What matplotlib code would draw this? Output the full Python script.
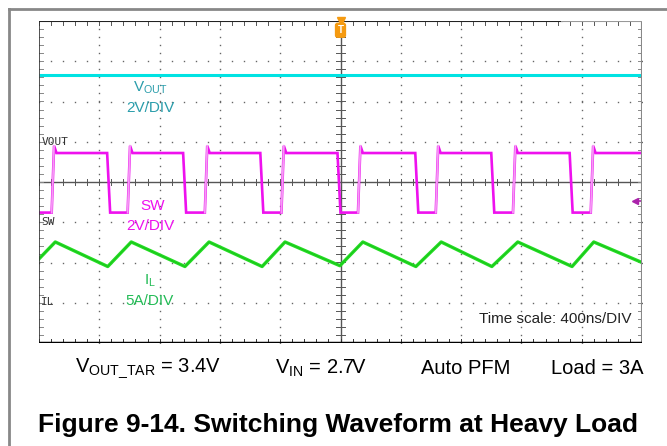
import numpy as np
import matplotlib
matplotlib.use("Agg")
import matplotlib.pyplot as plt
from matplotlib.lines import Line2D

plt.rcParams['font.family'] = ['Liberation Sans', 'DejaVu Sans']
plt.rcParams['mathtext.fontset'] = 'custom'
plt.rcParams['mathtext.rm'] = 'Liberation Sans'
plt.rcParams['mathtext.it'] = 'Liberation Sans'

# screen is 10 x 8 divisions, time in div (400 ns/div), level in div from centre
vout_level = 2.67

sw_rise = [0.23, 1.49, 2.77, 4.04, 5.31, 6.60, 7.88, 9.17]
sw_fall = [1.13, 2.39, 3.67, 4.95, 6.24, 7.50, 8.80]
sw_high = 0.72
sw_low = -0.76
sw_peak = 0.90

il_t = [0.0, 0.27, 1.14, 1.53, 2.42, 2.82, 3.70, 4.08, 4.99, 5.37, 6.25,
        6.67, 7.51, 7.94, 8.84, 9.20, 10.0]
il_v = [-1.91, -1.49, -2.10, -1.49, -2.10, -1.49, -2.10, -1.49, -2.08, -1.49,
        -2.10, -1.49, -2.10, -1.49, -2.10, -1.49, -2.00]

conditions = [r'$\mathregular{V_{OUT\_TAR}}$ = 3.4V', r'$\mathregular{V_{IN}}$ = 2.7V',
              'Auto PFM', 'Load = 3A']
cond_x = [75, 275, 421, 551]

CYAN = '#00e3e3'
TEAL = '#2a9dab'
MAG = '#ee11ee'
GREEN = '#22dd22'
DGREEN = '#22bb55'

fig = plt.figure(figsize=(6.67, 4.46), dpi=100)
ax = fig.add_axes([39/667, 1-343/446, 603/667, 322/446])
ax.set_xlim(0, 10)
ax.set_ylim(-4, 4)
ax.set_xticks([])
ax.set_yticks([])

# graticule dots
fine = np.arange(0, 10.01, 0.2)
fine_y = np.arange(-4, 4.01, 0.2)
for gx in range(1, 10):
    if gx == 5:
        continue
    ax.plot(np.full(len(fine_y), gx), fine_y, ls='none', marker='s', ms=1.0,
            color='#666666', mew=0)
for gy in range(-3, 4):
    if gy == 0:
        continue
    ax.plot(fine, np.full(len(fine), gy), ls='none', marker='s', ms=1.0,
            color='#666666', mew=0)

# centre lines with ticks
ax.axvline(5, color='#555555', lw=1.0)
ax.axhline(0, color='#555555', lw=1.0)
for t in fine:
    ax.plot([t, t], [-0.07, 0.07], color='#555555', lw=0.7)
    ax.plot([t, t], [-4, -3.9], color='#333333', lw=0.7)
    ax.plot([t, t], [4, 3.9], color='#555555', lw=0.7)
for t in fine_y:
    ax.plot([4.93, 5.07], [t, t], color='#555555', lw=0.7)
    ax.plot([0, 0.07], [t, t], color='#888888', lw=0.7)
    ax.plot([10, 9.93], [t, t], color='#888888', lw=0.7)

# VOUT trace
ax.plot([0, 10], [vout_level, vout_level], color=CYAN, lw=2.2, solid_capstyle='butt')

# SW trace built from edge times
sx = [0.0]
sy = [sw_low]
for i, r in enumerate(sw_rise):
    sx += [r - 0.02, r + 0.02, r + 0.06, r + 0.12]
    sy += [sw_low, sw_peak, sw_high, sw_high]
    if i < len(sw_fall):
        f = sw_fall[i]
        sx += [f, f + 0.05]
        sy += [sw_high, sw_low]
sx.append(10.0)
sy.append(sw_high)
ax.plot(sx, sy, color=MAG, lw=1.9, solid_joinstyle='miter')
for r in sw_rise:
    ax.plot([r - 0.02, r + 0.02], [sw_low, sw_peak], color='#f59af5', lw=1.3)

# inductor current
ax.plot(il_t, il_v, color=GREEN, lw=2.4)
ax.plot(il_t, il_v, color='#119911', lw=0.5, alpha=0.5)

# channel labels
ax.text(0.04, 0.99, 'VOUT', fontsize=8, color='#333333', va='center', ha='left',
        family='DejaVu Sans Mono')
ax.text(0.04, -1.0, 'SW', fontsize=8, color='#333333', va='center', ha='left',
        family='DejaVu Sans Mono')
ax.text(0.04, -2.99, 'IL', fontsize=8, color='#333333', va='center', ha='left',
        family='DejaVu Sans Mono')

ax.text(1.84, 2.35, r'$\mathregular{V_{OUT}}$', fontsize=11, color=TEAL, ha='center', va='center')
ax.text(1.84, 1.85, '2V/DIV', fontsize=11, color=TEAL, ha='center', va='center')
ax.text(1.89, -0.60, 'SW', fontsize=11, color=MAG, ha='center', va='center')
ax.text(1.84, -1.10, '2V/DIV', fontsize=11, color=MAG, ha='center', va='center')
ax.text(1.84, -2.46, r'$\mathregular{I_{L}}$', fontsize=11, color=DGREEN, ha='center', va='center')
ax.text(1.84, -2.96, '5A/DIV', fontsize=11, color=DGREEN, ha='center', va='center')
ax.text(9.83, -3.41, 'Time scale: 400ns/DIV', fontsize=11, color='#222222',
        ha='right', va='center')

# trigger markers
ax.plot([5], [4.0], marker='v', ms=6, color='#f59a10', clip_on=False, zorder=6)
ax.text(5, 3.77, 'T', fontsize=7, fontweight='bold', color='white', ha='center',
        va='center', zorder=7,
        bbox=dict(boxstyle='round,pad=0.2', fc='#f59a10', ec='#f59a10'))
ax.plot([9.88], [-0.48], marker='<', ms=5, color='#aa22aa', zorder=6)
ax.plot([9.88, 10.0], [-0.48, -0.48], color='#aa22aa', lw=1.2)

# frame
for s in ['left', 'right', 'top', 'bottom']:
    ax.spines[s].set_visible(False)
ax.axvline(0, color='#333333', lw=1.2)
ax.axvline(10, color='#888888', lw=1.5)
ax.axhline(-4, color='black', lw=2.5)
ax.axhline(4, xmin=0, xmax=0.867, color='#222222', lw=1.5)
ax.axhline(4, xmin=0.867, xmax=1, color='#999999', lw=1.5)

fig.add_artist(Line2D([9/667, 1], [1-9/446, 1-9/446], color='#888888', lw=2))
fig.add_artist(Line2D([9/667, 9/667], [0, 1-9/446], color='#888888', lw=2))

for txt, px in zip(conditions, cond_x):
    fig.text(px/667, 1-368/446, txt, fontsize=14.5, color='black', ha='left', va='center')

fig.text(38/667, 1-425/446, 'Figure 9-14. Switching Waveform at Heavy Load',
         fontsize=19, fontweight='bold', ha='left', va='center')

fig.savefig('out.png', dpi=100)
